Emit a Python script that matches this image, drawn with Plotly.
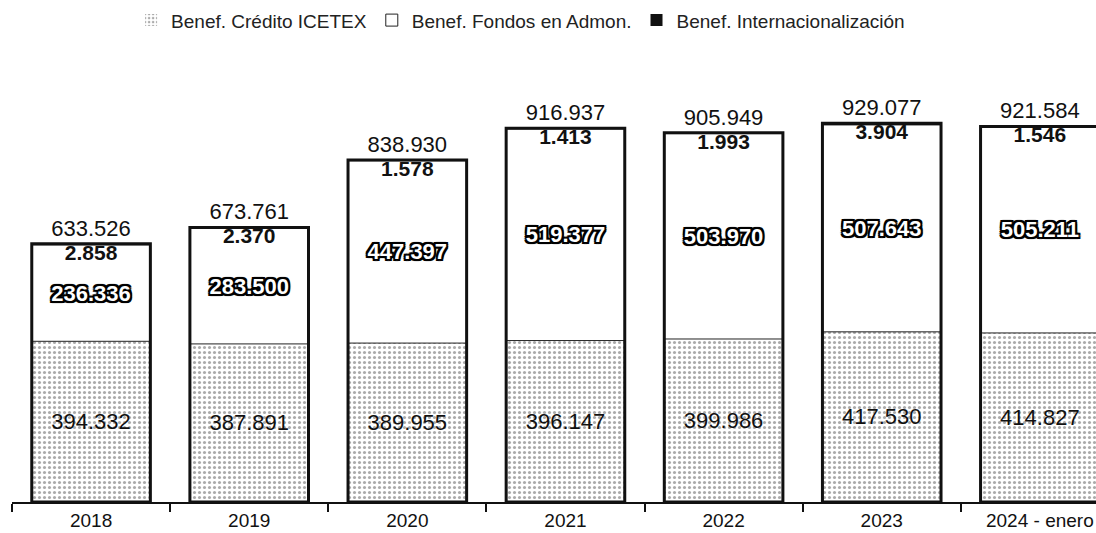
import plotly.graph_objects as go

years = ["2018", "2019", "2020", "2021", "2022", "2023", "2024 - enero"]
credito_icetex = [394332, 387891, 389955, 396147, 399986, 417530, 414827]
fondos_admon = [236336, 283500, 447397, 519377, 503970, 507643, 505211]
internacionalizacion = [2858, 2370, 1578, 1413, 1993, 3904, 1546]

totals = [a + b + c for a, b, c in zip(credito_icetex, fondos_admon, internacionalizacion)]
base_fondos = list(credito_icetex)
base_intl = [a + b for a, b in zip(credito_icetex, fondos_admon)]


def fmt(v):
    return f"{v:,}".replace(",", ".")


FONT = "Liberation Sans, Arial, sans-serif"
BW = 0.75

fig = go.Figure()

fig.add_trace(go.Bar(
    x=years, y=credito_icetex, base=0, width=BW,
    name="Benef. Crédito ICETEX",
    marker=dict(color="white",
                pattern=dict(shape=".", fgcolor="#555", bgcolor="white", size=5, solidity=0.3),
                line=dict(width=0)),
    text=[fmt(v) for v in credito_icetex], textposition="inside",
    insidetextanchor="middle", textangle=0, constraintext="none",
    textfont=dict(family=FONT, size=22, color="#111"),
    hoverinfo="skip",
))

fig.add_trace(go.Bar(
    x=years, y=fondos_admon, base=base_fondos, width=BW,
    name="Benef. Fondos en Admon.",
    marker=dict(color="white", line=dict(color="#222", width=1)),
    text=[fmt(v) for v in fondos_admon], textposition="inside",
    insidetextanchor="middle", textangle=0, constraintext="none",
    textfont=dict(family=FONT, size=22, color="white", weight="bold",
                  shadow="2px 2px 0 #000, -2px -2px 0 #000, 2px -2px 0 #000, -2px 2px 0 #000, 0 2px 1px #000, 0 -2px 1px #000, 2px 0 1px #000, -2px 0 1px #000"),
    hoverinfo="skip",
))

fig.add_trace(go.Bar(
    x=years, y=internacionalizacion, base=base_intl, width=BW,
    name="Benef. Internacionalización",
    marker=dict(color="#111", line=dict(width=0)),
    hoverinfo="skip",
))

# outline of total and total labels
fig.add_trace(go.Bar(
    x=years, y=totals, base=0, width=BW,
    marker=dict(color="rgba(0,0,0,0)", line=dict(color="#111", width=3)),
    text=[fmt(v) for v in totals], textposition="outside", cliponaxis=False,
    textfont=dict(family=FONT, size=22, color="#111"),
    showlegend=False, hoverinfo="skip",
))

# Internacionalización labels just under the top of each bar
fig.add_trace(go.Scatter(
    x=years, y=totals, mode="text",
    text=[fmt(v) for v in internacionalizacion], textposition="bottom center",
    textfont=dict(family=FONT, size=21, color="#111", weight="bold"),
    showlegend=False, hoverinfo="skip", cliponaxis=False,
))

fig.update_layout(
    width=1096, height=533,
    barmode="overlay",
    paper_bgcolor="white", plot_bgcolor="white",
    margin=dict(l=12, r=0, t=70, b=31),
    font=dict(family=FONT, color="#111"),
    legend=dict(orientation="h", x=0.475, xanchor="center", xref="container",
                y=0.962, yanchor="middle", yref="container",
                font=dict(family=FONT, size=19, color="#222"),
                itemwidth=30, traceorder="normal"),
    xaxis=dict(range=[-0.5, 6.355], showline=True, linecolor="#111", linewidth=2,
               ticks="outside", tickson="boundaries", ticklen=8, tickwidth=1.5,
               tickcolor="#111", showgrid=False,
               tickfont=dict(family=FONT, size=19, color="#111")),
    yaxis=dict(range=[0, 1060000], visible=False, showgrid=False, zeroline=False),
    bargap=0.25,
)

fig.write_html("out.html",
               config={"displayModeBar": False},
               post_script="document.body.style.margin='0';document.body.style.overflow='hidden';")
